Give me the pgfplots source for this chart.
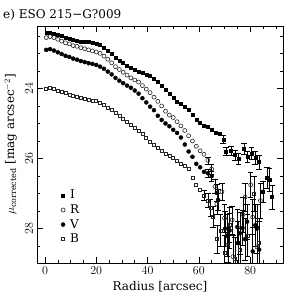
\documentclass[border=0pt,12pt]{standalone}
\usepackage{fontspec}
\setmainfont{DejaVu Serif}
\usepackage{pgfplots}
\pgfplotsset{compat=1.18}
\begin{document}
\begin{tikzpicture}[x=1pt,y=1pt]
\path[use as bounding box] (0,0) rectangle (300,300);
\begin{axis}[
  at={(37pt,37pt)}, anchor=south west,
  scale only axis, width=246pt, height=237pt,
  xmin=-3.1, xmax=92.8, ymin=22.22, ymax=28.98, y dir=reverse,
  xtick={0,20,40,60,80}, minor xtick={5,10,...,90},
  ytick={24,26,28}, minor ytick={22.5,23,...,29},
  tick align=inside, major tick length=6pt, minor tick length=3pt,
  tick style={black, line width=0.5pt},
  yticklabel style={rotate=90},
  xlabel={Radius [arcsec]},
  ylabel={$\mu_{\rm corrected}$ [mag arcsec$^{-2}$]},
  xlabel style={yshift=2pt},
  legend style={draw=none, fill=none, at={(rel axis cs:0.085,0.325)}, anchor=north west, row sep=0pt, column sep=3pt},
  legend cell align=left,
  error bars/y dir=both, error bars/y explicit,
  error bars/error bar style={black, line width=0.5pt},
  error bars/error mark options={rotate=90, mark size=2.8pt, black, line width=0.5pt},
]
% I
\addplot[only marks, mark=square*, mark size=1.5pt, black] coordinates {
(0.5,22.42)(2,22.40)(3.5,22.43)(5,22.47)(6.5,22.50)(8,22.55)(9.5,22.58)(11,22.62)(12.5,22.63)(14,22.66)
(15.5,22.67)(17,22.68)(18.5,22.70)(20,22.72)(21.5,22.76)(23,22.84)(24.5,22.92)(26,23.00)(27.5,23.12)(29,23.20)
(30.5,23.27)(32,23.35)(33.5,23.42)(35,23.47)(36.5,23.52)(38,23.56)(39.5,23.60)(41,23.64)(42.5,23.72)(44,23.82)
(45.5,23.92)(47,24.04)(48.5,24.15)(50,24.26)(51.5,24.37)(53,24.45)(54.5,24.52)(56,24.62)(57.5,24.74)(59,24.88)
(60.5,24.97)(62,25.05)(63.5,25.10)(65,25.18)(66.5,25.25)(68,25.30)};
\addlegendentry{I}
% R
\addplot[only marks, mark=o, mark size=2pt, black!85, mark options={line width=0.6pt}] coordinates {
(0.5,22.55)(2,22.52)(3.5,22.55)(5,22.60)(6.5,22.65)(8,22.70)(9.5,22.73)(11,22.78)(12.5,22.80)(14,22.84)
(15.5,22.87)(17,22.90)(18.5,22.93)(20,22.96)(21.5,23.00)(23,23.08)(24.5,23.17)(26,23.27)(27.5,23.38)(29,23.46)
(30.5,23.54)(32,23.62)(33.5,23.70)(35,23.76)(36.5,23.82)(38,23.92)(39.5,24.02)(41,24.12)(42.5,24.25)(44,24.37)
(45.5,24.50)(47,24.65)(48.5,24.76)(50,24.83)(51.5,24.95)(53,25.07)(54.5,25.20)(56,25.35)(57.5,25.50)(59,25.65)
(60.5,25.78)(62,25.88)};
\addlegendentry{R}
% V
\addplot[only marks, mark=*, mark size=2pt, black] coordinates {
(0.5,22.90)(2,22.88)(3.5,22.92)(5,22.97)(6.5,23.02)(8,23.07)(9.5,23.10)(11,23.15)(12.5,23.18)(14,23.22)
(15.5,23.25)(17,23.28)(18.5,23.30)(20,23.33)(21.5,23.38)(23,23.44)(24.5,23.52)(26,23.60)(27.5,23.70)(29,23.78)
(30.5,23.85)(32,23.92)(33.5,23.98)(35,24.06)(36.5,24.15)(38,24.28)(39.5,24.40)(41,24.52)(42.5,24.62)(44,24.78)
(45.5,24.90)(47,25.00)(48.5,25.08)(50,25.18)(51.5,25.27)(53,25.40)(54.5,25.60)(56,25.80)(57.5,25.95)(59,26.15)
(60.5,26.25)(62,26.38)};
\addlegendentry{V}
% B
\addplot[only marks, mark=square, mark size=1.5pt, black!85, mark options={line width=0.6pt}] coordinates {
(0.5,24.00)(2,23.99)(3.5,24.02)(5,24.06)(6.5,24.10)(8,24.13)(9.5,24.17)(11,24.20)(12.5,24.24)(14,24.27)
(15.5,24.30)(17,24.32)(18.5,24.34)(20,24.36)(21.5,24.42)(23,24.47)(24.5,24.54)(26,24.60)(27.5,24.70)(29,24.78)
(30.5,24.87)(32,24.95)(33.5,25.04)(35,25.13)(36.5,25.21)(38,25.30)(39.5,25.42)(41,25.53)(42.5,25.61)(44,25.70)
(45.5,25.78)(47,25.86)(48.5,25.92)(50,25.98)(51.5,26.06)(53,26.15)(54.5,26.20)(56,26.30)(57.5,26.55)(59,26.75)
(60.5,26.90)};
\addlegendentry{B}
% outer points with error bars
\addplot[forget plot, only marks, mark=square*, mark size=1.5pt, black] coordinates {
(69.5,25.45) +- (0,0.10) (70.5,25.80) +- (0,0.12) (72.5,25.78) +- (0,0.12) (74,25.90) +- (0,0.15)
(75.5,26.00) +- (0,0.15) (77.5,25.72) +- (0,0.15) (79,25.95) +- (0,0.15) (80.5,25.85) +- (0,0.18)
(82,25.98) +- (0,0.18) (83.5,26.10) +- (0,0.20) (85,26.95) +- (0,0.30) (86.5,26.55) +- (0,0.30)
(87.5,26.60) +- (0,0.32) (88.5,27.10) +- (0,0.35)};
\addplot[forget plot, only marks, mark=o, mark size=2pt, black!85, mark options={line width=0.6pt}] coordinates {
(63.5,26.05) +- (0,0.10) (65,26.30) +- (0,0.15) (66.3,26.80) +- (0,0.20) (67,27.30) +- (0,0.30)
(69,26.95) +- (0,0.25) (70,27.70) +- (0,0.40) (71.3,28.47) +- (0,0.50) (73,27.75) +- (0,0.40)
(73.3,28.80) +- (0,0.60) (77.2,27.60) +- (0,0.50) (78,27.10) +- (0,0.40) (80.2,26.75) +- (0,0.35)
(81,27.67) +- (0,0.50) (82.6,28.52) +- (0,0.60) (84,27.20) +- (0,0.50)};
\addplot[forget plot, only marks, mark=*, mark size=2pt, black] coordinates {
(63.5,26.42) +- (0,0.10) (65,26.50) +- (0,0.15) (67,26.98) +- (0,0.25) (67.5,27.18) +- (0,0.30)
(70.2,28.00) +- (0,0.50) (71,28.20) +- (0,0.60) (72,28.05) +- (0,0.50) (75,27.95) +- (0,0.50)
(76,28.13) +- (0,0.60) (75.3,28.40) +- (0,0.60) (77,27.98) +- (0,0.50) (78.8,27.80) +- (0,0.50)
(78,28.30) +- (0,0.60) (81,28.65) +- (0,0.70) (82,27.90) +- (0,0.60) (82.6,28.00) +- (0,0.70)
(83.5,28.60) +- (0,0.80)};
\addplot[forget plot, only marks, mark=square, mark size=1.5pt, black!85, mark options={line width=0.6pt}] coordinates {
(62,27.05) +- (0,0.15) (63.5,27.20) +- (0,0.20) (64.5,27.40) +- (0,0.25) (65.5,27.65) +- (0,0.30)
(67,28.30) +- (0,0.40) (68.5,28.05) +- (0,0.45) (70,28.70) +- (0,0.50) (72,27.90) +- (0,0.50)
(74,28.85) +- (0,0.60) (76,28.60) +- (0,0.60) (79,28.20) +- (0,0.60) (81.5,27.00) +- (0,0.50)
(83.5,28.40) +- (0,0.70)};
\end{axis}
\node[anchor=west, inner sep=0pt] at (3,285) {e) ESO 215−G?009};
\end{tikzpicture}
\end{document}
